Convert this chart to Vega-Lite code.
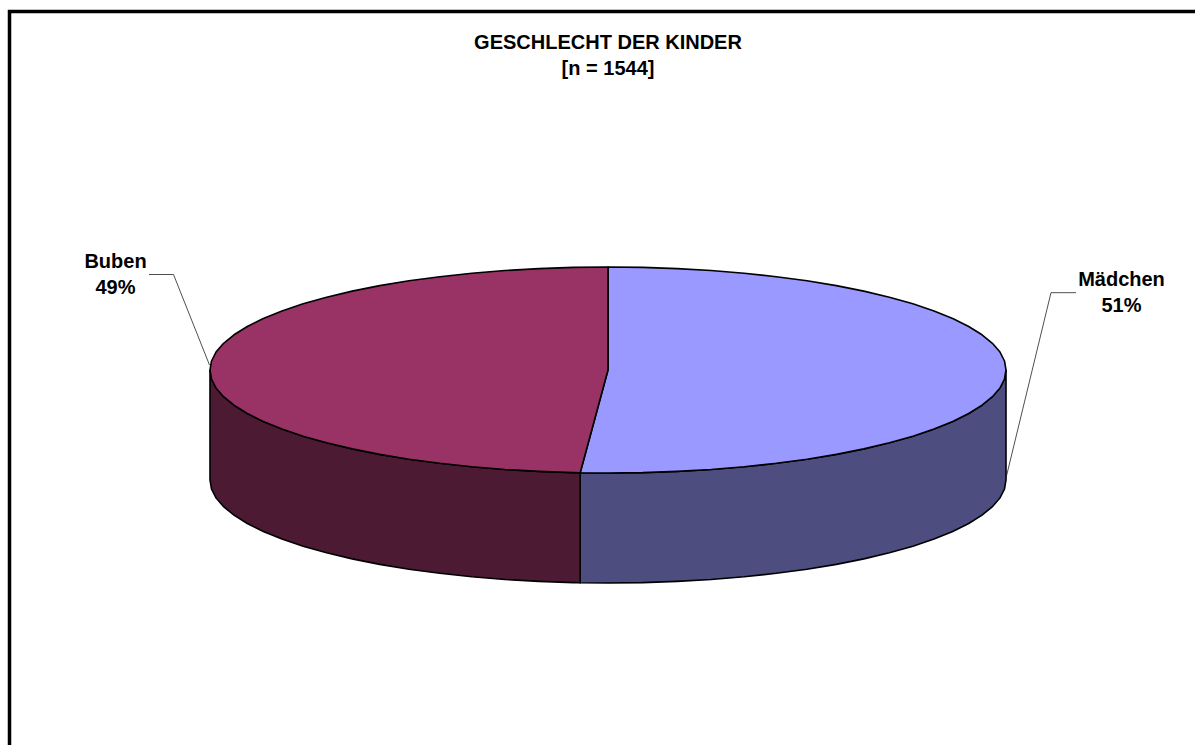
{
"$schema":"https://vega.github.io/schema/vega-lite/v6.json",
"width":1195,"height":745,"padding":0,"autosize":{"type":"none"},"background":"white",
"view":{"stroke":null},
"config":{"text":{"font":"Liberation Sans","fontWeight":"bold","fontSize":20,"color":"#000000"}},
"encoding":{
"x":{"field":"x","type":"quantitative","axis":null,"scale":{"domain":[0,1195],"nice":false,"zero":false}},
"y":{"field":"y","type":"quantitative","axis":null,"scale":{"domain":[745,0],"nice":false,"zero":false}}
},
"layer":[
{"data":{"values":[
{"s":"Mädchen","x":580.2,"y":472.7,"y2":582.7},{"s":"Mädchen","x":608,"y":473,"y2":583},{"s":"Mädchen","x":642.7,"y":472.6,"y2":582.6},{"s":"Mädchen","x":677.1,"y":471.4,"y2":581.4},{"s":"Mädchen","x":711,"y":469.5,"y2":579.5},{"s":"Mädchen","x":744.1,"y":466.8,"y2":576.8},{"s":"Mädchen","x":776.2,"y":463.3,"y2":573.3},{"s":"Mädchen","x":807,"y":459.2,"y2":569.2},{"s":"Mädchen","x":836.3,"y":454.4,"y2":564.4},{"s":"Mädchen","x":863.8,"y":448.9,"y2":558.9},{"s":"Mädchen","x":889.4,"y":442.8,"y2":552.8},{"s":"Mädchen","x":912.9,"y":436.2,"y2":546.2},{"s":"Mädchen","x":934,"y":429.1,"y2":539.1},{"s":"Mädchen","x":952.7,"y":421.5,"y2":531.5},{"s":"Mädchen","x":968.7,"y":413.5,"y2":523.5},{"s":"Mädchen","x":982,"y":405.2,"y2":515.2},{"s":"Mädchen","x":992.4,"y":396.7,"y2":506.7},{"s":"Mädchen","x":1000,"y":387.9,"y2":497.9},{"s":"Mädchen","x":1004.5,"y":379,"y2":489},{"s":"Mädchen","x":1006,"y":370,"y2":480},
{"s":"Buben","x":210,"y":370,"y2":480},{"s":"Buben","x":211.5,"y":379,"y2":489},{"s":"Buben","x":216,"y":387.9,"y2":497.9},{"s":"Buben","x":223.6,"y":396.7,"y2":506.7},{"s":"Buben","x":234,"y":405.2,"y2":515.2},{"s":"Buben","x":247.3,"y":413.5,"y2":523.5},{"s":"Buben","x":263.3,"y":421.5,"y2":531.5},{"s":"Buben","x":282,"y":429.1,"y2":539.1},{"s":"Buben","x":303.1,"y":436.2,"y2":546.2},{"s":"Buben","x":326.6,"y":442.8,"y2":552.8},{"s":"Buben","x":352.2,"y":448.9,"y2":558.9},{"s":"Buben","x":379.7,"y":454.4,"y2":564.4},{"s":"Buben","x":409,"y":459.2,"y2":569.2},{"s":"Buben","x":439.8,"y":463.3,"y2":573.3},{"s":"Buben","x":471.9,"y":466.8,"y2":576.8},{"s":"Buben","x":505,"y":469.5,"y2":579.5},{"s":"Buben","x":538.9,"y":471.4,"y2":581.4},{"s":"Buben","x":573.3,"y":472.6,"y2":582.6},{"s":"Buben","x":580.2,"y":472.7,"y2":582.7}
]},
"mark":{"type":"area","stroke":"#000000","strokeWidth":1.6},
"encoding":{"y2":{"field":"y2"},"detail":{"field":"s"},
"color":{"field":"s","type":"nominal","legend":null,"scale":{"domain":["Mädchen","Buben"],"range":["#4D4D80","#4D1A33"]}}}},
{"data":{"values":[
{"s":"Mädchen","i":0,"x":608,"y":370},{"s":"Mädchen","i":1,"x":608,"y":267},{"s":"Mädchen","i":2,"x":642.7,"y":267.4},{"s":"Mädchen","i":3,"x":677.1,"y":268.6},{"s":"Mädchen","i":4,"x":711,"y":270.5},{"s":"Mädchen","i":5,"x":744.1,"y":273.2},{"s":"Mädchen","i":6,"x":776.2,"y":276.7},{"s":"Mädchen","i":7,"x":807,"y":280.8},{"s":"Mädchen","i":8,"x":836.3,"y":285.6},{"s":"Mädchen","i":9,"x":863.8,"y":291.1},{"s":"Mädchen","i":10,"x":889.4,"y":297.2},{"s":"Mädchen","i":11,"x":912.9,"y":303.8},{"s":"Mädchen","i":12,"x":934,"y":310.9},{"s":"Mädchen","i":13,"x":952.7,"y":318.5},{"s":"Mädchen","i":14,"x":968.7,"y":326.5},{"s":"Mädchen","i":15,"x":982,"y":334.8},{"s":"Mädchen","i":16,"x":992.4,"y":343.3},{"s":"Mädchen","i":17,"x":1000,"y":352.1},{"s":"Mädchen","i":18,"x":1004.5,"y":361},{"s":"Mädchen","i":19,"x":1006,"y":370},{"s":"Mädchen","i":20,"x":1004.5,"y":379},{"s":"Mädchen","i":21,"x":1000,"y":387.9},{"s":"Mädchen","i":22,"x":992.4,"y":396.7},{"s":"Mädchen","i":23,"x":982,"y":405.2},{"s":"Mädchen","i":24,"x":968.7,"y":413.5},{"s":"Mädchen","i":25,"x":952.7,"y":421.5},{"s":"Mädchen","i":26,"x":934,"y":429.1},{"s":"Mädchen","i":27,"x":912.9,"y":436.2},{"s":"Mädchen","i":28,"x":889.4,"y":442.8},{"s":"Mädchen","i":29,"x":863.8,"y":448.9},{"s":"Mädchen","i":30,"x":836.3,"y":454.4},{"s":"Mädchen","i":31,"x":807,"y":459.2},{"s":"Mädchen","i":32,"x":776.2,"y":463.3},{"s":"Mädchen","i":33,"x":744.1,"y":466.8},{"s":"Mädchen","i":34,"x":711,"y":469.5},{"s":"Mädchen","i":35,"x":677.1,"y":471.4},{"s":"Mädchen","i":36,"x":642.7,"y":472.6},{"s":"Mädchen","i":37,"x":608,"y":473},{"s":"Mädchen","i":38,"x":580.2,"y":472.7},{"s":"Mädchen","i":39,"x":608,"y":370},
{"s":"Buben","i":0,"x":608,"y":370},{"s":"Buben","i":1,"x":580.2,"y":472.7},{"s":"Buben","i":2,"x":573.3,"y":472.6},{"s":"Buben","i":3,"x":538.9,"y":471.4},{"s":"Buben","i":4,"x":505,"y":469.5},{"s":"Buben","i":5,"x":471.9,"y":466.8},{"s":"Buben","i":6,"x":439.8,"y":463.3},{"s":"Buben","i":7,"x":409,"y":459.2},{"s":"Buben","i":8,"x":379.7,"y":454.4},{"s":"Buben","i":9,"x":352.2,"y":448.9},{"s":"Buben","i":10,"x":326.6,"y":442.8},{"s":"Buben","i":11,"x":303.1,"y":436.2},{"s":"Buben","i":12,"x":282,"y":429.1},{"s":"Buben","i":13,"x":263.3,"y":421.5},{"s":"Buben","i":14,"x":247.3,"y":413.5},{"s":"Buben","i":15,"x":234,"y":405.2},{"s":"Buben","i":16,"x":223.6,"y":396.7},{"s":"Buben","i":17,"x":216,"y":387.9},{"s":"Buben","i":18,"x":211.5,"y":379},{"s":"Buben","i":19,"x":210,"y":370},{"s":"Buben","i":20,"x":211.5,"y":361},{"s":"Buben","i":21,"x":216,"y":352.1},{"s":"Buben","i":22,"x":223.6,"y":343.3},{"s":"Buben","i":23,"x":234,"y":334.8},{"s":"Buben","i":24,"x":247.3,"y":326.5},{"s":"Buben","i":25,"x":263.3,"y":318.5},{"s":"Buben","i":26,"x":282,"y":310.9},{"s":"Buben","i":27,"x":303.1,"y":303.8},{"s":"Buben","i":28,"x":326.6,"y":297.2},{"s":"Buben","i":29,"x":352.2,"y":291.1},{"s":"Buben","i":30,"x":379.7,"y":285.6},{"s":"Buben","i":31,"x":409,"y":280.8},{"s":"Buben","i":32,"x":439.8,"y":276.7},{"s":"Buben","i":33,"x":471.9,"y":273.2},{"s":"Buben","i":34,"x":505,"y":270.5},{"s":"Buben","i":35,"x":538.9,"y":268.6},{"s":"Buben","i":36,"x":573.3,"y":267.4},{"s":"Buben","i":37,"x":608,"y":267},{"s":"Buben","i":38,"x":608,"y":370}
]},
"mark":{"type":"line","stroke":"#000000","strokeWidth":1.6,"strokeJoin":"round"},
"encoding":{"order":{"field":"i","type":"quantitative"},"detail":{"field":"s"},
"fill":{"field":"s","type":"nominal","legend":null,"scale":{"domain":["Mädchen","Buben"],"range":["#9999FF","#993366"]}}}},
{"data":{"values":[
{"s":"Buben","i":0,"x":149,"y":274.5},{"s":"Buben","i":1,"x":173.5,"y":274.5},{"s":"Buben","i":2,"x":209.5,"y":365},
{"s":"Mädchen","i":0,"x":1076,"y":292.7},{"s":"Mädchen","i":1,"x":1051,"y":292.7},{"s":"Mädchen","i":2,"x":1006,"y":478}
]},
"mark":{"type":"line","stroke":"#222222","strokeWidth":0.8},
"encoding":{"order":{"field":"i","type":"quantitative"},"detail":{"field":"s"}}},
{"data":{"values":[
{"i":0,"x":9.5,"y":745},{"i":1,"x":9.5,"y":11.5},{"i":2,"x":1195,"y":11.5}
]},
"mark":{"type":"line","stroke":"#000000","strokeWidth":3.5,"strokeJoin":"miter"},
"encoding":{"order":{"field":"i","type":"quantitative"}}},
{"data":{"values":[
{"t":"GESCHLECHT DER KINDER","x":608,"y":43},{"t":"[n = 1544]","x":608,"y":69},
{"t":"Buben","x":115.5,"y":262},{"t":"49%","x":115.5,"y":288},
{"t":"Mädchen","x":1121.5,"y":280},{"t":"51%","x":1121.5,"y":306}
]},
"mark":{"type":"text","baseline":"middle","align":"center"},
"encoding":{"text":{"field":"t"}}}
]
}
